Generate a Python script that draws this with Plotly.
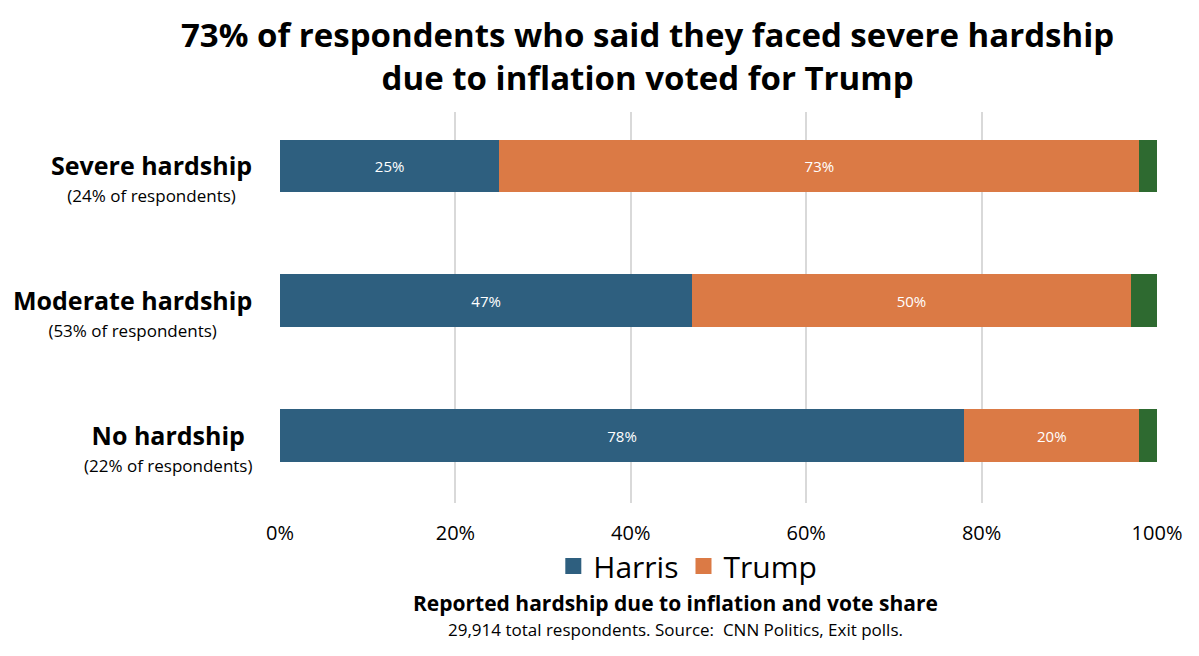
import plotly.graph_objects as go

categories = ["Severe hardship", "Moderate hardship", "No hardship"]
shares = ["(24% of respondents)", "(53% of respondents)", "(22% of respondents)"]
harris = [25, 47, 78]
trump = [73, 50, 20]
other = [2, 3, 2]
x_ticks = [0, 20, 40, 60, 80, 100]
x_tick_labels = ["0%", "20%", "40%", "60%", "80%", "100%"]

FONT = "Open Sans"
C_H = "#2E5F7F"
C_T = "#DB7A45"
C_O = "#2E6A30"

fig = go.Figure()
fig.add_trace(go.Bar(
    y=categories, x=harris, orientation="h", name="Harris",
    marker=dict(color=C_H, line=dict(width=0)),
    text=[f"{v}%" for v in harris], textposition="inside",
    insidetextanchor="middle",
    textfont=dict(color="white", size=15, family=FONT),
    hoverinfo="skip", showlegend=False,
))
fig.add_trace(go.Bar(
    y=categories, x=trump, orientation="h", name="Trump",
    marker=dict(color=C_T, line=dict(width=0)),
    text=[f"{v}%" for v in trump], textposition="inside",
    insidetextanchor="middle",
    textfont=dict(color="white", size=15, family=FONT),
    hoverinfo="skip", showlegend=False,
))
fig.add_trace(go.Bar(
    y=categories, x=other, orientation="h", name="Other",
    marker=dict(color=C_O, line=dict(width=0)),
    showlegend=False, hoverinfo="skip",
))
# legend entries with larger square swatches
for name, col in [("Harris", C_H), ("Trump", C_T)]:
    fig.add_trace(go.Scatter(
        x=[None], y=[None], mode="markers", name=name,
        marker=dict(symbol="square", size=19, color=col),
        showlegend=True, hoverinfo="skip",
    ))

for cat, sh in zip(categories, shares):
    fig.add_annotation(
        x=0, xref="paper", xshift=-26, y=cat, yref="y", yshift=-12,
        xanchor="right", yanchor="middle", align="center",
        text=f"<b><span style='font-size:25px'>{cat}</span></b><br><span style='font-size:17px'>{sh}</span>",
        showarrow=False, font=dict(size=21, color="black", family=FONT),
    )

fig.add_annotation(
    x=0.4185, xref="paper", y=1.2609, yref="paper", yanchor="top",
    text="<b>73% of respondents who said they faced severe hardship<br>due to inflation voted for Trump</b>",
    showarrow=False, font=dict(size=33, color="black", family=FONT),
)
fig.add_annotation(
    x=0.4515, xref="paper", y=-0.2558, yref="paper", yanchor="middle",
    text="<b>Reported hardship due to inflation and vote share</b>",
    showarrow=False, font=dict(size=21, color="black", family=FONT),
)
fig.add_annotation(
    x=0.4515, xref="paper", y=-0.3223, yref="paper", yanchor="middle",
    text="29,914 total respondents. Source:  CNN Politics, Exit polls.",
    showarrow=False, font=dict(size=17, color="black", family=FONT),
)

fig.update_layout(
    width=1199, height=656,
    barmode="stack", bargap=0.61,
    paper_bgcolor="white", plot_bgcolor="white",
    margin=dict(l=272, r=50, t=104, b=161),
    font=dict(family=FONT, color="black"),
    showlegend=True,
    legend=dict(
        orientation="h", x=0.465, xanchor="center", y=-0.161, yanchor="middle",
        font=dict(size=30, family=FONT, color="black"),
        traceorder="normal",
    ),
    xaxis=dict(
        range=[0, 100], tickvals=x_ticks, ticktext=x_tick_labels,
        showgrid=True, gridcolor="#D9D9D9", gridwidth=1.5,
        zeroline=False, showline=False, ticks="",
        tickfont=dict(size=20, family=FONT, color="black"),
        ticklabelstandoff=16,
    ),
    yaxis=dict(
        categoryorder="array", categoryarray=categories[::-1],
        range=[-0.5, 2.4], showticklabels=False, showgrid=False,
        zeroline=False, showline=False, ticks="",
    ),
)

fig.write_html("out.html")
